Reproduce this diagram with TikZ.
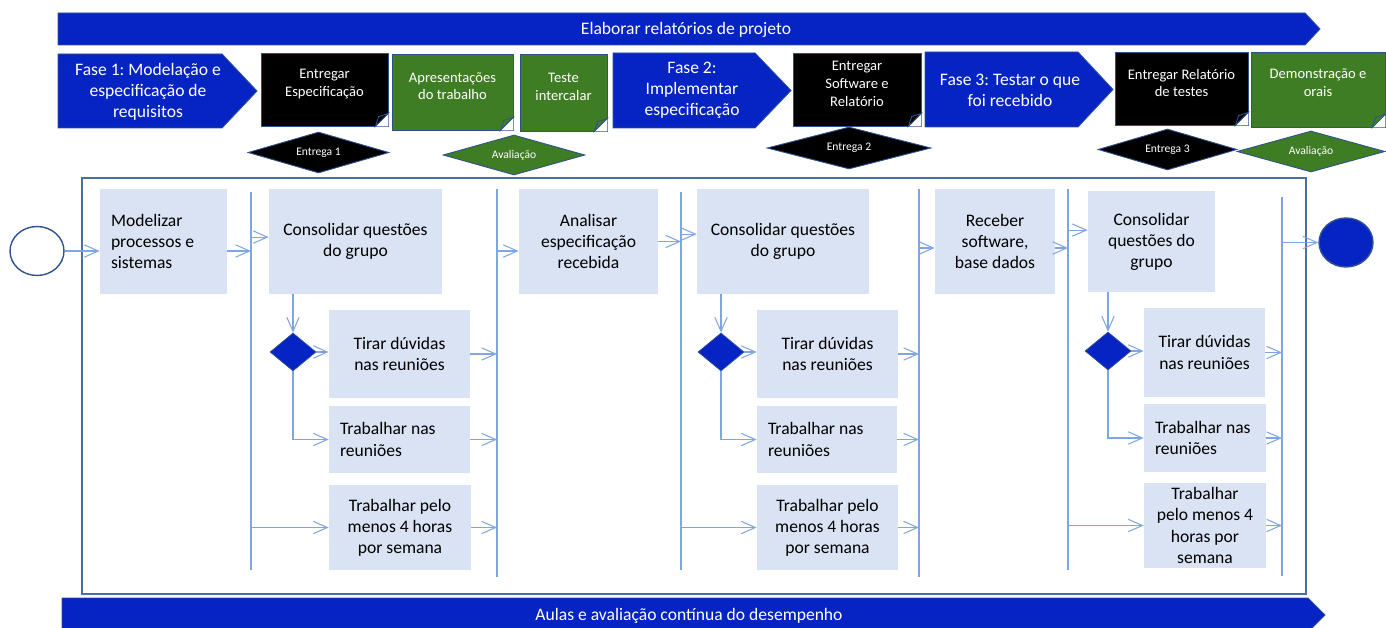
\documentclass[tikz,border=0pt]{standalone}
\usepackage{fontspec}
\setmainfont{Carlito}
\frenchspacing
\usetikzlibrary{arrows.meta,shapes.geometric}
\definecolor{barblue}{HTML}{0624C4}
\definecolor{edgeblue}{HTML}{2F528F}
\definecolor{okgreen}{HTML}{3E7D23}
\definecolor{taskfill}{HTML}{DAE3F3}
\definecolor{flowblue}{HTML}{7FA6E3}
\definecolor{framecol}{HTML}{4A6FA5}
\newcommand{\dogear}[2]{%
  \fill[white] ([xshift=-7.4pt]#1.south east) -- (#1.south east) -- ([yshift=7.4pt]#1.south east) -- cycle;
  \draw[edgeblue, line width=0.5pt, fill=#2] ([xshift=-7.4pt]#1.south east) -- ([xshift=-5.6pt,yshift=5.6pt]#1.south east) -- ([yshift=7.4pt]#1.south east) -- cycle;}
\begin{document}
\begin{tikzpicture}[x=0.02cm, y=-0.02cm,
banner/.style={fill=barblue, draw=edgeblue, line width=0.5pt},
bartext/.style={text=white, align=center, font=\fontsize{10}{12}\selectfont},
note/.style={draw=edgeblue, line width=0.5pt, inner sep=0pt},
notetext/.style={text=white, align=center, yshift=3.2pt, font=\fontsize{8.3}{10}\selectfont},
milestone/.style={diamond, aspect=3.4, draw=edgeblue, line width=0.5pt, inner sep=0pt, text=white, font=\fontsize{6.6}{8}\selectfont},
task/.style={fill=taskfill, inner sep=0pt, align=center, font=\fontsize{10}{12}\selectfont},
gate/.style={diamond, fill=barblue, draw=edgeblue, line width=0.4pt, inner sep=0pt, minimum width=0.92cm, minimum height=0.76cm},
bar/.style={draw=flowblue, line width=0.6pt},
arrow/.style={draw=flowblue, line width=0.6pt, -{Straight Barb[length=8pt,width=7pt]}}
]
\useasboundingbox (0,0) rectangle (1386,628);
\clip (0,0) rectangle (1386,628);

% top row
\path[banner] (58,13) -- (1305,13) -- (1320,29) -- (1305,45) -- (58,45) -- cycle;
\node[bartext] (report) at (686,29.5) {Elaborar relatórios de projeto};

\path[banner] (58,54) -- (222,54) -- (257,91) -- (222,128) -- (58,128) -- cycle;
\node[bartext] (fase1) at (148,92) {Fase 1: Modelação e\\especificação de\\requisitos};
\path[banner] (613,53) -- (755,53) -- (791,90.5) -- (755,128) -- (613,128) -- cycle;
\node[bartext] (fase2) at (692,90) {Fase 2:\\Implementar\\especificação};
\path[banner] (925,52) -- (1078,52) -- (1113,89.5) -- (1078,127) -- (925,127) -- cycle;
\node[bartext] (fase3) at (1010,90) {Fase 3: Testar o que\\foi recebido};

\node[note, fill=black, minimum width=2.54cm, minimum height=1.46cm,
  label={[notetext]center:{Entregar\\Especificação}}] (spec) at (324.5,89.5) {};
\dogear{spec}{black}
\node[note, fill=okgreen, minimum width=2.42cm, minimum height=1.52cm,
  label={[notetext]center:{Apresentações\\do trabalho}}] (apres) at (452.5,92) {};
\dogear{apres}{okgreen}
\node[note, fill=okgreen, minimum width=1.74cm, minimum height=1.54cm,
  label={[notetext]center:{Teste\\intercalar}}] (teste) at (563.5,92.5) {};
\dogear{teste}{okgreen}
\node[note, fill=black, minimum width=2.56cm, minimum height=1.46cm,
  label={[notetext]center:{Entregar\\Software e\\Relatório}}] (soft) at (857,89.5) {};
\dogear{soft}{black}
\node[note, fill=black, minimum width=2.66cm, minimum height=1.46cm,
  label={[notetext]center:{Entregar Relatório\\de testes}}] (relt) at (1181.5,88.5) {};
\dogear{relt}{black}
\node[note, fill=okgreen, minimum width=2.68cm, minimum height=1.5cm,
  label={[notetext, yshift=0.8pt]center:{Demonstração e\\orais}}] (demo) at (1318,89.5) {};
\dogear{demo}{okgreen}

\node[milestone, fill=black, minimum width=2.82cm, minimum height=0.82cm] (ent1) at (318.5,152.5) {Entrega 1};
\node[milestone, fill=okgreen, minimum width=2.84cm, minimum height=0.8cm] (aval1) at (514,155) {Avaliação};
\node[milestone, fill=black, minimum width=3.28cm, minimum height=0.84cm] (ent2) at (849,148) {Entrega 2};
\node[milestone, fill=black, minimum width=2.78cm, minimum height=0.82cm] (ent3) at (1167.5,149.5) {Entrega 3};
\node[milestone, fill=okgreen, minimum width=2.96cm, minimum height=0.82cm] (aval2) at (1311,151.5) {Avaliação};

% lanes
\node[draw=framecol, line width=1pt, inner sep=0pt, minimum width=24.48cm, minimum height=8.32cm] (lanes) at (694,386) {};
\node[draw=edgeblue, line width=0.8pt, ellipse, minimum width=1.08cm, minimum height=0.98cm] (start) at (37,251) {};
\node[fill=barblue, draw=edgeblue, line width=0.8pt, ellipse, minimum width=1.08cm, minimum height=0.98cm] (end) at (1346,242.5) {};

\coordinate (j1) at (251,192); \coordinate (j1e) at (251,570);
\coordinate (j2) at (497,189); \coordinate (j2e) at (497,577);
\coordinate (j3) at (681,192); \coordinate (j3e) at (681,570);
\coordinate (j4) at (919,189); \coordinate (j4e) at (919,577);
\coordinate (j5) at (1068,189); \coordinate (j5e) at (1068,570);
\coordinate (j6) at (1282,197); \coordinate (j6e) at (1282,576);
\draw[bar] (j1) -- (j1e);
\draw[bar] (j2) -- (j2e);
\draw[bar] (j3) -- (j3e);
\draw[bar] (j4) -- (j4e);
\draw[bar] (j5) -- (j5e);
\draw[bar] (j6) -- (j6e);

\node[task, align=flush left, text width=2.1cm, minimum width=2.54cm, minimum height=2.1cm] (modl) at (163.5,241.5) {Modelizar\\processos e\\sistemas};
\node[task, minimum width=3.46cm, minimum height=2.1cm] (cons1) at (355.5,241.5) {Consolidar questões\\do grupo};
\node[gate] (dia1) at (293,352) {};
\node[task, minimum width=2.82cm, minimum height=1.76cm] (tira1) at (399.5,354) {Tirar dúvidas\\nas reuniões};
\node[task, align=flush left, text width=2.38cm, minimum width=2.82cm, minimum height=1.34cm] (trab1) at (399.5,439.5) {Trabalhar nas\\reuniões};
\node[task, minimum width=2.84cm, minimum height=1.7cm] (hrs1) at (400,527.5) {Trabalhar pelo\\menos 4 horas\\por semana};

\node[task, minimum width=2.78cm, minimum height=2.1cm] (anls) at (588.5,241.5) {Analisar\\especificação\\recebida};
\node[task, minimum width=3.44cm, minimum height=2.1cm] (cons2) at (783,241.5) {Consolidar questões\\do grupo};
\node[gate] (dia2) at (721,352) {};
\node[task, minimum width=2.82cm, minimum height=1.76cm] (tira2) at (827.5,354) {Tirar dúvidas\\nas reuniões};
\node[task, align=flush left, text width=2.36cm, minimum width=2.8cm, minimum height=1.34cm] (trab2) at (827,439.5) {Trabalhar nas\\reuniões};
\node[task, minimum width=2.82cm, minimum height=1.7cm] (hrs2) at (827.5,527.5) {Trabalhar pelo\\menos 4 horas\\por semana};

\node[task, minimum width=2.4cm, minimum height=2.1cm] (recb) at (995,241.5) {Receber\\software,\\base dados};
\node[task, minimum width=2.54cm, minimum height=2.02cm] (cons3) at (1151.5,241.5) {Consolidar\\questões do\\grupo};
\node[gate] (dia3) at (1108,351) {};
\node[task, minimum width=2.42cm, minimum height=1.78cm] (tira3) at (1204.5,352.5) {Tirar dúvidas\\nas reuniões};
\node[task, align=flush left, text width=2.0cm, minimum width=2.44cm, minimum height=1.36cm] (trab3) at (1205,438) {Trabalhar nas\\reuniões};
\node[task, minimum width=2.44cm, minimum height=1.7cm] (hrs3) at (1205,525.5) {Trabalhar\\pelo menos 4\\horas por\\semana};

\draw[arrow] (start.east) -- (start.east -| modl.west);
\draw[arrow] (start -| modl.east) -- (start -| j1);
\draw[arrow] ([yshift=2.5pt]cons1.west -| j1) -- ([yshift=2.5pt]cons1.west);
\draw[arrow] (dia1 |- cons1.south) -- (dia1.north);
\draw[arrow] (dia1.east) -- (dia1.east -| tira1.west);
\draw[arrow] (dia1.south) |- (trab1.west);
\draw[arrow] (hrs1.west -| j1) -- (hrs1.west);
\draw[arrow] (tira1.east) -- (tira1.east -| j2);
\draw[arrow] (trab1.east) -- (trab1.east -| j2);
\draw[arrow] (hrs1.east) -- (hrs1.east -| j2);
\draw[arrow] (start -| j2) -- (start -| anls.west);

\draw[arrow] (anls.east) -- (anls.east -| j3);
\draw[arrow] ([yshift=4.2pt]cons2.west -| j3) -- ([yshift=4.2pt]cons2.west);
\draw[arrow] (dia2 |- cons2.south) -- (dia2.north);
\draw[arrow] (dia2.east) -- (dia2.east -| tira2.west);
\draw[arrow] (dia2.south) |- (trab2.west);
\draw[arrow] (hrs2.west -| j3) -- (hrs2.west);
\draw[arrow] (tira2.east) -- (tira2.east -| j4);
\draw[arrow] (trab2.east) -- (trab2.east -| j4);
\draw[arrow] (hrs2.east) -- (hrs2.east -| j4);
\draw[arrow] ([yshift=-3.7pt]recb.west -| j4) -- ([yshift=-3.7pt]recb.west);

\draw[arrow] ([yshift=-3.7pt]recb.east) -- ([yshift=-3.7pt]recb.east -| j5);
\draw[arrow] ([yshift=6.5pt]cons3.west -| j5) -- ([yshift=6.5pt]cons3.west);
\draw[arrow] (dia3 |- cons3.south) -- (dia3.north);
\draw[arrow] (dia3.east) -- (dia3.east -| tira3.west);
\draw[arrow] (dia3.south) |- (trab3.west);
\draw[arrow] (hrs3.west -| j5) -- (hrs3.west);
\draw[arrow] (tira3.east) -- (tira3.east -| j6);
\draw[arrow] (trab3.east) -- (trab3.east -| j6);
\draw[arrow] (hrs3.east) -- (hrs3.east -| j6);
\draw[arrow] (end -| j6) -- (end.west);

% bottom row
\path[banner] (62,598) -- (1308,598) -- (1325,615) -- (1308,632) -- (62,632) -- cycle;
\node[bartext] (classes) at (689,616) {Aulas e avaliação contínua do desempenho};
\end{tikzpicture}
\end{document}
